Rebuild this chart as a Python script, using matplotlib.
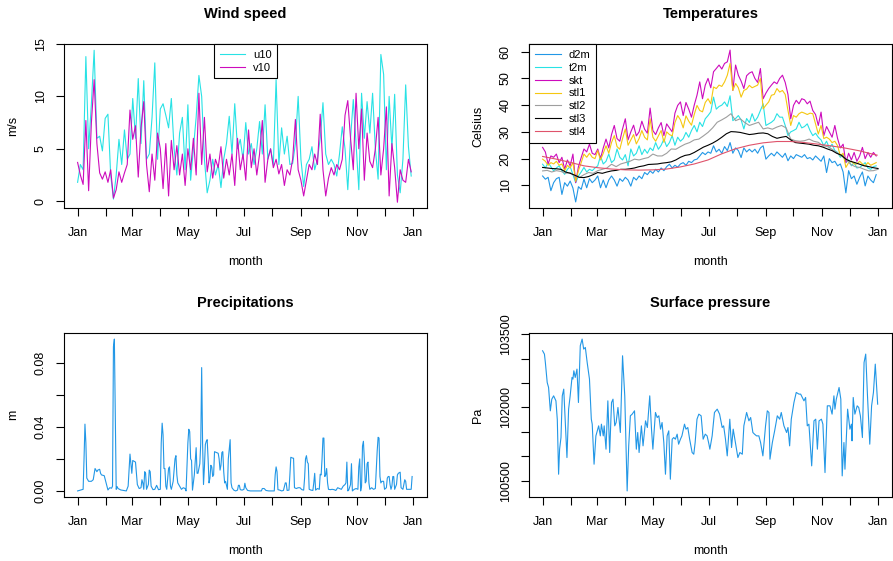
import numpy as np
import pandas as pd
import matplotlib
matplotlib.use("Agg")
import matplotlib.pyplot as plt

plt.rcParams['font.family'] = ['Liberation Sans', 'DejaVu Sans']

# ---- data ----
start = pd.Timestamp('2019-01-01')

# wind, one value every 3 days from Jan 1
u10 = [1.8, 3.5, 3.0, 13.8, 5.0, 9.3, 14.4, 6.0, 6.2, 4.8, 7.9, 8.3, 2.5, 0.2, 2.5, 5.9,
       3.5, 6.8, 4.0, 4.5, 9.8, 6.0, 11.7, 5.5, 11.5, 4.0, 4.5, 8.0, 13.2, 4.0, 8.8, 9.3,
       8.2, 7.0, 9.8, 5.0, 2.5, 6.5, 8.0, 3.0, 9.2, 2.0, 5.0, 8.0, 12.0, 10.0, 4.0, 0.8,
       2.0, 4.0, 2.5, 3.5, 1.3, 4.0, 5.5, 8.1, 4.5, 9.3, 5.0, 5.9, 4.0, 7.5, 4.5, 5.5,
       3.5, 5.0, 7.6, 4.5, 9.2, 4.0, 5.0, 3.5, 11.6, 3.5, 7.0, 4.5, 6.2, 3.5, 3.6, 5.5,
       10.0, 4.0, 1.4, 3.5, 4.0, 5.2, 3.0, 4.0, 6.0, 9.4, 4.5, 3.5, 4.0, 3.5, 2.4, 4.5,
       7.1, 5.0, 1.1, 6.0, 9.7, 5.5, 1.1, 10.3, 6.0, 9.5, 6.5, 10.3, 5.0, 2.1, 14.0, 12.1,
       3.0, 10.0, 5.0, 10.2, 2.5, 0.8, 4.0, 11.1, 5.2, 2.4]
v10 = [3.7, 2.5, 1.6, 7.7, 1.0, 7.5, 11.6, 5.5, 2.7, 2.1, 2.8, 1.8, 3.0, 0.3, 1.1, 2.8,
       1.8, 2.7, 3.5, 8.7, 5.9, 7.2, 2.3, 7.0, 9.5, 3.5, 0.9, 4.5, 2.0, 6.5, 5.0, 1.2,
       5.5, 0.5, 5.8, 3.0, 5.3, 2.5, 4.5, 1.5, 5.0, 3.0, 6.0, 2.5, 10.3, 3.5, 8.0, 2.8,
       4.5, 2.2, 4.0, 3.2, 5.2, 2.2, 4.0, 2.5, 4.5, 1.5, 6.0, 3.0, 4.5, 2.0, 6.8, 3.2,
       5.0, 2.5, 4.5, 7.7, 1.8, 4.0, 5.0, 3.2, 4.0, 2.6, 3.5, 1.5, 3.0, 2.5, 4.0, 7.8,
       3.0, 2.0, 0.5, 2.0, 3.5, 3.0, 4.5, 3.5, 8.3, 3.0, 0.5, 2.2, 3.2, 2.5, 3.5, 3.0,
       4.0, 8.2, 9.6, 6.0, 3.0, 10.3, 5.0, 8.8, 2.0, 6.5, 3.8, 3.2, 5.0, 8.0, 2.5, 5.0,
       9.0, 0.5, 5.5, 3.2, -0.1, 3.0, 2.0, 1.8, 4.0, 2.8]

# temperatures, one value every 3 days from Jan 1
d2m = [13.5, 12.3, 13.0, 8.0, 11.0, 12.5, 13.0, 6.6, 11.0, 9.7, 11.6, 9.0, 3.8, 9.5, 8.5, 12.3,
       9.1, 12.5, 11.0, 12.0, 13.5, 9.1, 12.0, 9.1, 12.0, 13.5, 12.0, 9.7, 12.5, 11.5, 13.0, 12.0,
       9.7, 13.0, 12.0, 13.5, 12.5, 14.8, 14.0, 15.4, 14.5, 16.0, 15.0, 16.5, 15.5, 17.0, 17.9, 16.5,
       17.5, 16.8, 18.0, 18.5, 17.5, 19.0, 18.5, 19.5, 19.8, 21.0, 22.3, 21.5, 22.5, 22.0, 24.8, 22.5,
       23.5, 22.0, 24.5, 23.0, 26.0, 22.0, 24.0, 23.0, 20.4, 24.0, 22.5, 23.5, 22.5, 23.5, 22.0, 24.0,
       24.8, 19.8, 21.0, 22.0, 21.0, 22.5, 21.5, 20.5, 22.0, 19.2, 21.0, 20.0, 21.5, 21.0, 20.5, 21.5,
       20.0, 20.4, 19.5, 21.0, 20.0, 19.0, 21.0, 14.8, 20.0, 18.5, 19.0, 17.3, 18.0, 15.0, 7.2, 15.5,
       12.5, 13.5, 10.4, 13.0, 15.0, 9.8, 13.5, 12.0, 11.0, 14.0]
t2m = [17.9, 16.5, 18.5, 17.0, 15.4, 16.5, 17.3, 15.5, 14.1, 16.0, 17.0, 14.0, 11.0, 13.5, 15.0, 16.7,
       15.0, 16.0, 15.5, 16.5, 17.3, 21.0, 18.0, 19.0, 21.7, 18.5, 19.5, 23.6, 20.5, 19.5, 21.5, 17.3,
       23.6, 21.0, 22.0, 24.8, 21.5, 23.5, 22.0, 24.0, 23.0, 26.0, 23.5, 25.0, 27.3, 24.5, 26.0, 28.6,
       25.0, 28.0, 26.5, 27.5, 29.8, 28.0, 30.5, 32.4, 30.0, 33.6, 32.0, 34.9, 36.1, 37.5, 43.0, 38.5,
       39.5, 40.0, 41.2, 39.5, 43.5, 34.2, 35.0, 36.1, 34.5, 31.1, 35.0, 33.5, 36.8, 34.0, 35.5, 38.0,
       40.5, 32.4, 33.0, 33.6, 34.5, 36.8, 35.5, 35.5, 32.4, 28.6, 30.0, 30.5, 31.1, 33.6, 31.5, 32.0,
       33.0, 30.5, 28.6, 29.5, 28.0, 27.0, 24.8, 26.5, 24.0, 25.4, 23.0, 22.3, 20.5, 21.5, 18.5, 19.5,
       17.3, 18.5, 16.5, 16.7, 17.5, 18.5, 16.5, 16.0, 17.0, 17.3]
skt = [24.2, 22.5, 18.0, 21.0, 20.5, 21.7, 18.5, 20.5, 16.0, 19.5, 17.3, 21.7, 11.0, 17.0, 20.4, 23.6,
       22.5, 25.4, 22.0, 21.5, 23.6, 20.0, 24.0, 27.3, 24.0, 29.0, 32.4, 27.5, 26.5, 31.1, 34.9, 27.0,
       30.0, 32.5, 28.5, 30.0, 34.0, 31.0, 29.5, 38.9, 30.5, 29.0, 31.5, 33.5, 28.6, 33.0, 31.5, 30.0,
       37.0, 39.9, 41.2, 36.1, 41.0, 38.5, 35.5, 40.0, 43.7, 48.7, 42.4, 47.5, 50.0, 46.5, 52.5, 53.7,
       55.0, 53.5, 55.6, 56.2, 60.6, 45.5, 55.0, 51.2, 49.0, 46.2, 51.0, 52.0, 52.5, 50.0, 48.5, 53.7,
       42.4, 44.5, 46.2, 47.5, 48.7, 48.0, 50.0, 51.2, 48.5, 44.0, 34.9, 39.9, 41.8, 40.5, 42.4, 42.0,
       40.5, 41.5, 38.0, 36.5, 32.4, 37.4, 28.6, 32.0, 30.0, 28.0, 32.4, 27.5, 24.0, 25.4, 18.5, 22.0,
       19.5, 22.3, 19.0, 21.0, 24.2, 20.0, 22.3, 20.5, 22.3, 21.0]
stl1 = [19.8, 19.0, 17.5, 18.5, 18.0, 19.0, 17.5, 18.0, 15.5, 17.5, 16.5, 18.5, 11.5, 15.5, 18.5, 21.7,
        20.5, 22.0, 20.5, 20.0, 23.0, 19.5, 22.0, 24.8, 22.0, 26.0, 28.6, 24.5, 23.5, 27.5, 31.1, 25.0,
        27.0, 29.0, 25.5, 27.5, 30.5, 28.0, 27.0, 34.9, 28.0, 26.5, 28.5, 30.5, 26.1, 30.0, 29.0, 28.5,
        33.5, 36.1, 34.5, 31.5, 36.0, 34.0, 32.5, 36.5, 39.9, 38.0, 37.5, 41.0, 42.4, 40.5, 46.8, 46.2,
        47.5, 47.0, 48.7, 51.2, 55.6, 45.5, 48.1, 46.5, 43.0, 45.5, 46.0, 47.4, 46.5, 47.0, 47.5, 50.0,
        38.6, 40.0, 41.2, 43.7, 44.0, 46.2, 44.9, 45.5, 44.0, 38.0, 32.4, 36.1, 35.5, 36.8, 37.4, 37.0,
        36.5, 37.0, 36.8, 33.0, 29.2, 32.4, 27.5, 28.0, 27.3, 26.0, 26.5, 24.8, 21.0, 22.0, 16.7, 18.5,
        19.0, 18.0, 18.0, 19.0, 18.0, 17.3, 18.5, 17.5, 18.0, 18.5]
# deeper soil layers, one value every 5 days
stl2 = [15.4, 15.6, 15.0, 15.5, 15.2, 14.5, 14.8, 13.5, 12.9, 14.0, 14.8, 14.5, 15.5, 16.0, 16.5, 17.9,
        17.0, 18.0, 18.5, 19.0, 19.8, 19.5, 20.0, 20.4, 21.7, 21.0, 21.0, 22.0, 23.6, 23.5, 24.5, 25.4,
        26.0, 27.0, 27.3, 28.5, 29.8, 31.5, 33.6, 34.5, 35.5, 36.8, 34.2, 34.9, 33.5, 32.4, 33.0, 33.6,
        31.1, 31.5, 31.0, 31.8, 32.4, 31.5, 27.3, 26.7, 26.5, 26.7, 27.3, 26.5, 26.1, 24.8, 24.5, 23.5,
        22.3, 21.0, 19.8, 17.9, 17.0, 16.7, 16.0, 15.4, 15.5, 16.0]
stl3 = [16.7, 16.5, 16.3, 16.2, 16.0, 15.0, 14.5, 13.8, 13.0, 12.9, 13.3, 14.0, 14.8, 14.5, 15.0, 15.4,
        15.6, 16.0, 16.0, 16.2, 16.5, 17.0, 17.3, 17.8, 17.9, 18.0, 18.3, 18.5, 18.8, 19.5, 20.5, 21.2,
        21.5, 22.3, 23.3, 24.3, 25.0, 25.8, 26.8, 28.0, 29.3, 30.1, 30.0, 29.8, 29.4, 29.0, 29.2, 29.5,
        29.6, 29.3, 28.3, 27.6, 28.0, 28.3, 27.0, 26.0, 25.8, 25.6, 25.4, 25.0, 24.8, 24.3, 23.6, 23.0,
        22.0, 21.3, 19.8, 19.0, 18.5, 17.9, 17.3, 17.0, 16.6, 16.3]
stl4_day = [0, 15, 30, 45, 60, 75, 90, 105, 120, 135, 150, 165, 180, 195, 210, 225, 240, 255,
            270, 285, 300, 315, 330, 345, 360, 364]
stl4 = [20.8, 19.8, 18.6, 17.3, 16.6, 16.1, 15.8, 15.7, 15.8, 16.1, 16.9, 18.0, 19.5, 21.8, 23.7,
        25.0, 25.9, 26.4, 26.4, 26.0, 25.4, 24.7, 23.9, 22.9, 21.6, 21.3]

# precipitation (day, metres)
tp_day = [0, 3, 6, 7, 8, 9, 10, 12, 15, 17, 19, 21, 22, 24, 25, 26, 29, 31, 33, 35, 37, 38, 39, 40,
          41, 42, 43, 44, 47, 50, 53, 55, 57, 59, 60, 63, 65, 67, 69, 70, 71, 72, 73, 74, 75, 77,
          78, 79, 80, 82, 84, 86, 88, 90, 91, 92, 93, 94, 95, 96, 97, 99, 100, 101, 102, 104, 106,
          107, 108, 109, 111, 113, 115, 117, 118, 120, 121, 122, 123, 124, 125, 127, 129, 130, 131,
          133, 134, 135, 136, 137, 138, 139, 140, 141, 142, 143, 144, 145, 146, 147, 148, 149, 151,
          153, 154, 155, 156, 157, 158, 159, 160, 161, 163, 164, 166, 167, 168, 170, 172, 174, 175,
          176, 177, 179, 181, 182, 183, 185, 188, 200, 201, 203, 205, 208, 214, 215, 216, 217, 218,
          220, 222, 224, 226, 227, 228, 230, 231, 232, 234, 235, 236, 238, 240, 242, 244, 246, 247,
          248, 249, 250, 251, 252, 254, 256, 257, 258, 259, 261, 263, 264, 265, 266, 267, 268, 269,
          270, 271, 272, 273, 275, 277, 279, 281, 283, 285, 287, 289, 291, 292, 293, 294, 295, 297,
          298, 299, 301, 303, 305, 306, 307, 308, 309, 310, 311, 312, 313, 314, 315, 316, 317, 318,
          320, 322, 324, 325, 326, 327, 328, 329, 330, 331, 333, 334, 336, 337, 338, 339, 340, 341,
          342, 343, 344, 345, 347, 348, 349, 351, 352, 354, 355, 356, 357, 358, 361, 363, 364]
tp = [0.0, 0.0005, 0.001, 0.02, 0.0417, 0.03, 0.008, 0.006, 0.006, 0.007, 0.014, 0.012, 0.013,
      0.0135, 0.011, 0.010, 0.0095, 0.005, 0.0006, 0.002, 0.0017, 0.003, 0.09, 0.0948, 0.05, 0.001,
      0.0027, 0.0015, 0.0006, 0.0003, 0.0, 0.003, 0.023, 0.011, 0.019, 0.018, 0.004, 0.0015, 0.002,
      0.007, 0.005, 0.001, 0.012, 0.011, 0.001, 0.004, 0.013, 0.012, 0.003, 0.0008, 0.001, 0.0035,
      0.0008, 0.001, 0.03, 0.0423, 0.035, 0.014, 0.014, 0.003, 0.001, 0.014, 0.015, 0.003, 0.001,
      0.006, 0.02, 0.022, 0.01, 0.005, 0.003, 0.001, 0.002, 0.0015, 0.0, 0.03, 0.0385, 0.037, 0.02,
      0.019, 0.0005, 0.01, 0.027, 0.011, 0.011, 0.017, 0.03, 0.077, 0.03, 0.004, 0.015, 0.029, 0.031,
      0.032, 0.02, 0.005, 0.008, 0.016, 0.015, 0.009, 0.01, 0.0245, 0.024, 0.0235, 0.02, 0.013,
      0.016, 0.024, 0.0245, 0.012, 0.005, 0.006, 0.001, 0.02, 0.032, 0.005, 0.002, 0.0005, 0.0,
      0.0005, 0.0035, 0.0035, 0.0008, 0.0005, 0.001, 0.0048, 0.002, 0.0003, 0.0, 0.0, 0.0015,
      0.0015, 0.0003, 0.0, 0.0, 0.01, 0.015, 0.012, 0.0008, 0.0005, 0.0, 0.0003, 0.005, 0.005,
      0.0003, 0.0005, 0.01, 0.021, 0.0205, 0.0204, 0.002, 0.0015, 0.002, 0.002, 0.0008, 0.0005,
      0.008, 0.02, 0.022, 0.018, 0.017, 0.001, 0.0005, 0.0003, 0.005, 0.011, 0.0005, 0.0015, 0.001,
      0.0104, 0.01, 0.02, 0.033, 0.033, 0.009, 0.01, 0.014, 0.005, 0.001, 0.0008, 0.001, 0.0008,
      0.0003, 0.002, 0.0015, 0.001, 0.003, 0.004, 0.005, 0.018, 0.0, 0.0005, 0.004, 0.017, 0.0,
      0.001, 0.0015, 0.001, 0.015, 0.02, 0.0, 0.003, 0.028, 0.031, 0.02, 0.005, 0.006, 0.017, 0.018,
      0.005, 0.001, 0.002, 0.001, 0.0015, 0.013, 0.025, 0.0335, 0.033, 0.009, 0.005, 0.006, 0.006,
      0.001, 0.002, 0.008, 0.009, 0.009, 0.004, 0.001, 0.003, 0.009, 0.009, 0.001, 0.004, 0.01,
      0.011, 0.0117, 0.002, 0.001, 0.004, 0.007, 0.006, 0.001, 0.001, 0.001, 0.009]

# surface pressure (day, Pa)
sp_day = [0, 2, 3, 5, 6.5, 8.4, 10, 12, 14.5, 16, 17.4, 18.5, 20, 21.4, 23, 24, 26.5, 28.3, 30, 32,
          33, 34, 35.5, 37.4, 39, 41, 43, 44.7, 46.5, 48.5, 51, 53, 54, 56, 58, 61, 62.8, 64, 66,
          67, 69, 71, 73, 75, 76.6, 78.5, 80, 82, 84.6, 87, 89.4, 92, 93.7, 95.5, 97.5, 100, 102,
          103.5, 105, 107.5, 109.3, 112, 114, 116.6, 118.5, 120, 122.8, 124.7, 126.5, 128.3, 130,
          131.9, 133.7, 135.5, 137.3, 139, 141, 142.7, 144.5, 146.4, 148, 150, 151.6, 154.4, 156,
          158, 160, 162.7, 164.5, 166, 168, 170, 172.5, 174.7, 177, 179, 181, 182, 184.5, 187, 190,
          192.6, 195.4, 197, 199, 200.9, 203.7, 205.6, 207.4, 209.2, 212.5, 214.7, 217.3, 219, 222,
          224.5, 226.4, 228.8, 230.6, 232.8, 235.3, 237.2, 239.7, 242.6, 244.5, 246.3, 247.4, 250,
          252.5, 255.4, 258, 259.7, 262.6, 265.5, 267, 268.8, 270.6, 273.5, 276, 279, 280.8, 282.6,
          284.4, 286.2, 288, 289.8, 292.8, 295.3, 297.2, 299, 300.8, 303.4, 305, 307.3, 309.8, 312.7,
          315, 317, 318.1, 319.6, 322.6, 324.5, 326, 327.9, 329, 331.9, 334.4, 336, 336.7, 338, 339.8,
          342.3, 344, 345.8, 348, 349.8, 351.6, 353.5, 356, 358, 360, 362, 364.6]
sp = [103159, 103090, 102920, 102511, 102409, 101932, 102170, 102238, 102136, 101750, 100636,
      101148, 101386, 102238, 102375, 101966, 100977, 101966, 102238, 102614, 102580, 102750,
      102614, 102784, 102102, 103261, 103398, 103193, 103227, 102920, 102580, 101761, 101659,
      100841, 101420, 101625, 101420, 101659, 101420, 101625, 101148, 102136, 101080, 102102,
      102170, 101625, 101693, 102000, 101489, 103057, 102238, 100295, 101216, 101830, 101864,
      101932, 101148, 101489, 101080, 101625, 101216, 101727, 101591, 102238, 101557, 101148,
      101898, 101795, 101830, 101557, 101693, 101284, 100636, 101420, 101523, 100534, 101352,
      101386, 101352, 101455, 101250, 101352, 101420, 101659, 101557, 101591, 101352, 101080,
      101045, 101284, 101761, 101864, 101830, 101352, 101455, 101420, 101250, 101148, 101420,
      101898, 101966, 101864, 101591, 101625, 101352, 101011, 101761, 101182, 101557, 101352,
      100977, 101080, 101045, 101625, 101898, 101727, 101795, 101489, 101455, 101420, 101420,
      101284, 101011, 101625, 101932, 101898, 100943, 101284, 101523, 101830, 101761, 101898,
      101625, 101489, 101591, 101216, 101761, 102102, 102307, 102273, 102273, 102205, 102136,
      102205, 101625, 101659, 100807, 101727, 101761, 101148, 101727, 101761, 101659, 100670,
      102034, 102034, 101864, 102238, 101966, 102170, 102409, 102170, 100602, 101284, 100739,
      101966, 101557, 101659, 101318, 102205, 101864, 102034, 102000, 101830, 101386, 102920,
      103091, 102250, 101250, 102034, 102307, 102886, 102068]

month_starts = pd.date_range('2019-01-01', '2020-01-01', freq='MS')
month_labels = [d.strftime('%b') if i % 2 == 0 else '' for i, d in enumerate(month_starts)]

c_blue, c_cyan, c_mag, c_yel = '#2297E6', '#28E2E5', '#CD0BBC', '#F5C710'
c_gray, c_red = '#9E9E9E', '#DF536B'


def dates(days):
    return start + pd.to_timedelta(np.asarray(days, dtype=float), unit='D')


def every(vals, step):
    return dates(np.arange(len(vals)) * step)


W, H = 893, 561
fig = plt.figure(figsize=(W / 100, H / 100), dpi=100)


def panel(x0, y_top, title, ylab):
    ax = fig.add_axes([x0 / W, 1 - (y_top + 164) / H, 363 / W, 164 / H])
    for s in ax.spines.values():
        s.set_color('black')
        s.set_linewidth(0.8)
    ax.tick_params(direction='out', length=5.5, width=0.8, labelsize=9, colors='black')
    ax.tick_params(axis='x', pad=8)
    ax.tick_params(axis='y', pad=7, labelrotation=90)
    ax.set_xticks(month_starts)
    ax.set_xticklabels(month_labels)
    ax.set_xlim(start - pd.Timedelta(days=14.8), start + pd.Timedelta(days=380.2))
    ax.set_xlabel('month', fontsize=9)
    ax.xaxis.label.set_va('center')
    ax.xaxis.set_label_coords(0.5, -54 / 164)
    ax.set_ylabel(ylab, fontsize=9)
    ax.yaxis.label.set_va('center')
    ax.yaxis.set_label_coords(-51 / 363, 0.5)
    ax.text(0.5, 1 + 30 / 164, title, transform=ax.transAxes, ha='center', va='center',
            fontsize=10.5, fontweight='bold')
    return ax


def style_legend(leg):
    fr = leg.get_frame()
    fr.set_edgecolor('black')
    fr.set_linewidth(0.8)
    fr.set_alpha(1)


lw = 0.8

# wind speed
ax = panel(64, 44, 'Wind speed', 'm/s')
ax.plot(every(u10, 3), u10, color=c_cyan, lw=lw, label='u10')
ax.plot(every(v10, 3), v10, color=c_mag, lw=lw, label='v10')
ax.set_yticks([0, 5, 10, 15])
ax.set_ylim(-0.65, 15.0)
leg = ax.legend(loc='upper center', borderaxespad=0, fancybox=False, fontsize=8,
                handlelength=2.3, handletextpad=0.7, labelspacing=0.3, borderpad=0.5)
style_legend(leg)

# temperatures
ax = panel(529, 44, 'Temperatures', 'Celsius')
ax.plot(every(d2m, 3), d2m, color=c_blue, lw=lw, label='d2m')
ax.plot(every(t2m, 3), t2m, color=c_cyan, lw=lw, label='t2m')
ax.plot(every(skt, 3), skt, color=c_mag, lw=lw, label='skt')
ax.plot(every(stl1, 3), stl1, color=c_yel, lw=lw, label='stl1')
ax.plot(every(stl2, 5), stl2, color=c_gray, lw=lw, label='stl2')
ax.plot(every(stl3, 5), stl3, color='black', lw=lw, label='stl3')
ax.plot(dates(stl4_day), stl4, color=c_red, lw=lw, label='stl4')
ax.set_yticks([10, 20, 30, 40, 50, 60])
ax.margins(y=0.04)
leg = ax.legend(loc='upper left', borderaxespad=0, fancybox=False, fontsize=8,
                handlelength=2.3, handletextpad=0.7, labelspacing=0.25, borderpad=0.55)
style_legend(leg)

# precipitation
ax = panel(64, 333, 'Precipitations', 'm')
ax.plot(dates(tp_day), tp, color=c_blue, lw=lw)
ax.set_yticks([0, 0.02, 0.04, 0.06, 0.08])
ax.set_yticklabels(['0.00', '', '0.04', '', '0.08'])
ax.margins(y=0.04)

# surface pressure
ax = panel(529, 333, 'Surface pressure', 'Pa')
ax.plot(dates(sp_day), sp, color=c_blue, lw=lw)
ax.set_yticks(np.arange(100500, 103501, 500))
ax.set_yticklabels(['100500', '', '', '102000', '', '', '103500'])
ax.margins(y=0.04)

for a in fig.axes:
    for lab in a.get_yticklabels():
        lab.set_va('center')

fig.savefig('out.png', dpi=100)
